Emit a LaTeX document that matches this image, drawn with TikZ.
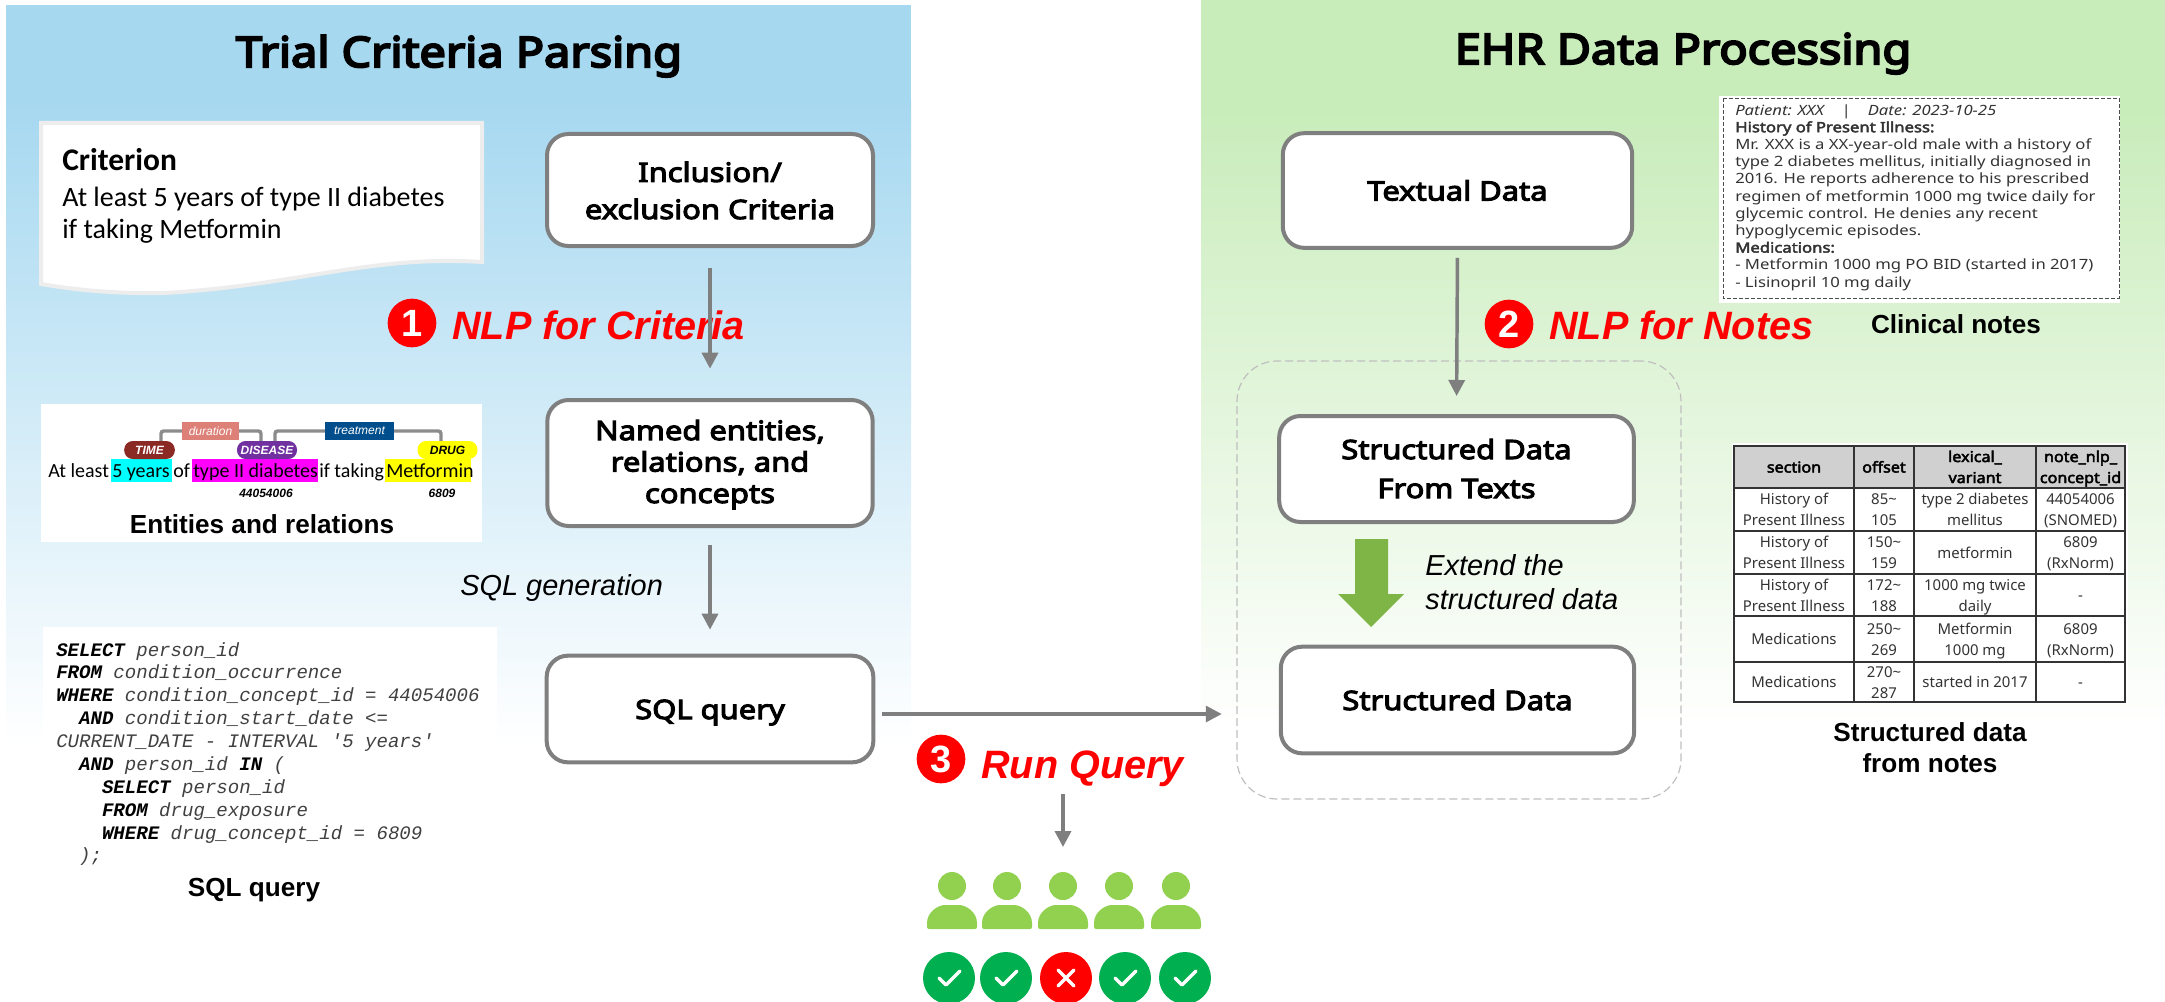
\documentclass[tikz,border=0pt]{standalone}
\usepackage{fontspec}
\setmainfont{Liberation Sans}
\setmonofont{Liberation Mono}
\newfontfamily\notofam{Noto Sans}
\newfontfamily\boxfam{Noto Sans}[FakeBold=4,FakeStretch=1.16]
\newfontfamily\titlefam{Noto Sans}[FakeBold=5,FakeStretch=1.115]
\newfontfamily\headfam{Noto Sans}[FakeBold=3,FakeStretch=1.08]
\newfontfamily\notefam{Noto Sans}[FakeStretch=1.18]
\newfontfamily\noteboldfam{Noto Sans}[FakeBold=3,FakeStretch=1.18]
\newfontfamily\carlfam{Carlito}
\usetikzlibrary{arrows.meta}
\definecolor{flowgray}{HTML}{7F7F7F}
\definecolor{bluetop}{HTML}{A6D8F0}
\definecolor{greentop}{HTML}{C8ECBA}
\definecolor{bodygreen}{HTML}{92D050}
\definecolor{okgreen}{HTML}{00B050}
\definecolor{arrowgreen}{HTML}{7FB546}
\definecolor{notegray}{HTML}{EDEDED}
\definecolor{codegray}{HTML}{404040}
\definecolor{hdrgray}{HTML}{D0D0D0}
\definecolor{purered}{HTML}{FF0000}
\definecolor{hlcyan}{HTML}{00FFFF}
\definecolor{hlmagenta}{HTML}{FF00FF}
\definecolor{hlyellow}{HTML}{FFFF00}
\definecolor{timered}{HTML}{8B2A25}
\definecolor{diseasepurple}{HTML}{7030A0}
\definecolor{durationsalmon}{HTML}{DD8077}
\definecolor{treatblue}{HTML}{004E8C}
\definecolor{relgray}{HTML}{8C8C8C}
\tikzset{
  flowbox/.style={draw=flowgray,line width=3pt,fill=white,rounded corners=16pt,inner sep=0pt,align=center,
     font=\boxfam\fontsize{20}{23.6}\selectfont},
  flowarrow/.style={draw=flowgray,line width=2.6pt,-{Triangle[length=12pt,width=12pt]}},
  titletext/.style={inner sep=0pt,anchor=base,font=\titlefam\fontsize{31.5}{36}\selectfont},
  captext/.style={inner sep=0pt,anchor=base,align=center,font=\bfseries\fontsize{19.6}{23.2}\selectfont},
  steptext/.style={inner sep=0pt,anchor=base west,text=purered,font=\bfseries\itshape\fontsize{29.7}{34}\selectfont},
  numbadge/.style={circle,fill=purered,text=white,inner sep=0pt,minimum size=36.5pt,font=\bfseries\fontsize{28.5}{30}\selectfont},
  ittext/.style={inner sep=0pt,anchor=base west,align=left,font=\itshape\fontsize{21.7}{25.8}\selectfont},
  linetext/.style={inner sep=0pt,anchor=base west,font=\carlfam\fontsize{15}{18}\selectfont},
  tagtext/.style={inner sep=0pt,anchor=base,font=\bfseries\itshape\fontsize{9}{10}\selectfont},
  pill/.style={rounded corners=6.5pt,inner sep=0pt,minimum height=13.5pt,text=white,font=\bfseries\itshape\fontsize{9}{10}\selectfont},
  relbox/.style={inner sep=0pt,minimum height=14pt,text=white,font=\itshape\fontsize{9}{10}\selectfont},
  cellbase/.style={inner sep=0pt,align=center,text=black!80,font=\notofam\fontsize{11.2}{15.75}\selectfont,text depth=0pt},
  celltwo/.style={cellbase,text height=24pt},
  cellone/.style={cellbase,text height=8.25pt},
  headtwo/.style={celltwo,text=black,font=\headfam\fontsize{11.2}{15.75}\selectfont},
  headone/.style={cellone,text=black,font=\headfam\fontsize{11.2}{15.75}\selectfont},
  badge/.style={circle,inner sep=0pt,minimum size=39pt},
  markline/.style={draw=white,line width=2.6pt,line cap=round,line join=round},
  relline/.style={draw=relgray,line width=2.6pt,rounded corners=2pt},
}
\begin{document}
\begin{tikzpicture}[x=0.75pt,y=-0.75pt]
\useasboundingbox (0,0) rectangle (2165,1002);
% panels
\fill[bluetop] (6,5) rectangle (911,100);
\shade[top color=bluetop,bottom color=white] (6,100) rectangle (911,745);
\fill[greentop] (1201,0) rectangle (2165,100);
\shade[top color=greentop,bottom color=white] (1201,100) rectangle (2165,730);
% titles
\node[titletext] (title1) at (459,67) {Trial Criteria Parsing};
\node[titletext] (title2) at (1683,64) {EHR Data Processing};
% criterion note
\draw[draw=notegray,line width=3pt,fill=white] (41,123) -- (482,123) -- (482,262)
  .. controls (370,255) and (300,285) .. (165,293) .. controls (110,294) and (70,289) .. (41,284) -- cycle;
\node[inner sep=0pt,anchor=base west,font=\carlfam\bfseries\fontsize{23.6}{27}\selectfont] (crit) at (62,171) {Criterion};
\node[inner sep=0pt,anchor=base west,font=\carlfam\fontsize{21}{27}\selectfont] (critA) at (62,206) {At least 5 years of type II diabetes};
\node[inner sep=0pt,anchor=base west,font=\carlfam\fontsize{21}{27}\selectfont] (critB) at (62,238) {if taking Metformin};
% entities panel
\fill[white] (41,404) rectangle (482,542);
\fill[hlcyan] (111,459) rectangle (172,482);
\fill[hlmagenta] (192,459) rectangle (318,482);
\fill[hlyellow] (385,459) rectangle (471,482);
\draw[relline] (161,441) -- (161,431) -- (261,431) -- (261,441);
\draw[relline] (275,441) -- (275,431) -- (441,431) -- (441,441);
\node[relbox,fill=durationsalmon,minimum width=43pt] (rel1) at (210.5,431) {duration};
\node[relbox,fill=treatblue,minimum width=52pt] (rel2) at (359.5,431) {treatment};
\node[pill,fill=timered,minimum width=38pt] (tag1) at (149.5,450) {TIME};
\node[pill,fill=diseasepurple,minimum width=45pt] (tag2) at (267,450) {DISEASE};
\node[pill,fill=hlyellow,text=black,minimum width=45pt] (tag3) at (447.5,450) {DRUG};
\node[linetext] (w1) at (48,477) {At least};
\node[linetext] (w2) at (112,477) {5 years};
\node[linetext] (w3) at (173,477) {of};
\node[linetext] (w4) at (193,477) {type II diabetes};
\node[linetext] (w5) at (319,477) {if taking};
\node[linetext] (w6) at (386,477) {Metformin};
\node[tagtext] (id1) at (266,497) {44054006};
\node[tagtext] (id2) at (442,497) {6809};
\node[captext] (cap1) at (262,533) {Entities and relations};
% SQL panel
\fill[white] (43,627) rectangle (497,905);
\node[inner sep=0pt,anchor=north west,align=left,text=codegray,
  font=\ttfamily\itshape\fontsize{14.3}{17.15}\selectfont] (code) at (56,642)
{\textbf{\textcolor{black}{SELECT}} person\_id\\
\textbf{\textcolor{black}{FROM}} condition\_occurrence\\
\textbf{\textcolor{black}{WHERE}} condition\_concept\_id = 44054006\\
\ \ \textbf{\textcolor{black}{AND}} condition\_start\_date <=\\
CURRENT\_DATE - INTERVAL '5 years'\\
\ \ \textbf{\textcolor{black}{AND}} person\_id \textbf{\textcolor{black}{IN}} (\\
\ \ \ \ \textbf{\textcolor{black}{SELECT}} person\_id\\
\ \ \ \ \textbf{\textcolor{black}{FROM}} drug\_exposure\\
\ \ \ \ \textbf{\textcolor{black}{WHERE}} drug\_concept\_id = 6809\\
\ \ );};
\node[captext] (cap2) at (254,896) {SQL query};
% left flow boxes
\node[flowbox,minimum width=244.5pt,minimum height=84pt,text height=43.5pt,text depth=0pt] (inc) at (710,190) {Inclusion/\\[4.2pt]exclusion Criteria};
\node[flowbox,minimum width=244pt,minimum height=94.5pt,text height=60pt,text depth=0pt] (ner) at (710,463) {Named entities,\\relations, and\\concepts};
\node[flowbox,minimum width=245pt,minimum height=80pt,text height=15pt,text depth=0pt] (sql) at (710,709) {SQL query};
\draw[flowarrow,shorten <=15pt,shorten >=22pt] (inc.south) -- (ner.north);
\draw[flowarrow,shorten <=13pt,shorten >=18pt] (ner.south) -- (sql.north);
\node[inner sep=0pt,anchor=base west,font=\itshape\fontsize{21.7}{26}\selectfont] (sqlgen) at (460,595) {SQL generation};
% step labels
\node[numbadge] (n1) at (412,323) {1};
\node[steptext] (s1) at (452,339) {NLP for Criteria};
\draw[flowgray,line width=2.6pt] ([yshift=-15pt]inc.south) -- ([yshift=-15pt]inc.south |- s1.base);
% right group
\node[draw=black!25,line width=0.9pt,dash pattern=on 6pt off 3pt,rounded corners=30pt,minimum width=333pt,minimum height=328.5pt,inner sep=0pt] (ext) at (1459,580) {};
\node[flowbox,minimum width=262pt,minimum height=86pt,text height=15pt,text depth=0pt] (txt) at (1457.5,190.5) {Textual Data};
\node[flowbox,minimum width=266pt,minimum height=79.5pt,text height=43.5pt,text depth=0pt] (sdt) at (1456.5,469) {Structured Data\\[5.6pt]From Texts};
\node[flowbox,minimum width=265pt,minimum height=80pt,text height=15pt,text depth=0pt] (sd) at (1457.5,700) {Structured Data};
\draw[flowarrow,shorten <=6pt,shorten >=13.5pt] (txt.south) -- (sdt.north);
\fill[arrowgreen] (1355,539) -- (1388,539) -- (1388,594) -- (1404,594) -- (1371,627) -- (1338,594) -- (1355,594) -- cycle;
\node[ittext] (ext1) at (1425,575) {Extend the};
\node[ittext] (ext2) at (1425,609) {structured data};
\node[numbadge] (n2) at (1509,324) {2};
\node[steptext] (s2) at (1549,339) {NLP for Notes};
% clinical notes
\fill[white] (1719,96) rectangle (2120,303);
\draw[black!70,line width=0.6pt,dash pattern=on 3pt off 1.5pt] (1723,98) rectangle (2119,298);
\node[inner sep=0pt,anchor=north west,align=left,text=black!80,font=\notefam\fontsize{10.6}{12.9}\selectfont] (note) at (1735,104)
{\textit{Patient: XXX \ \ \ | \ \ \ Date: 2023-10-25}\\
{\noteboldfam History of Present Illness:}\\
Mr. XXX is a XX-year-old male with a history of\\
type 2 diabetes mellitus, initially diagnosed in\\
2016. He reports adherence to his prescribed\\
regimen of metformin 1000 mg twice daily for\\
glycemic control. He denies any recent\\
hypoglycemic episodes.\\
{\noteboldfam Medications:}\\
- Metformin 1000 mg PO BID (started in 2017)\\
- Lisinopril 10 mg daily};
\node[captext] (cap3) at (1956,333) {Clinical notes};
% table
\fill[white] (1732,443) rectangle (2128,704);
\fill[hdrgray] (1734,446) rectangle (2125,488);
\draw[black!80,line width=1pt] (1734,446) rectangle (2125,702);
\foreach \yy in {488,531,574,616,662} \draw[black!80,line width=1pt] (1734,\yy) -- (2125,\yy);
\foreach \xx in {1854,1914,2036} \draw[black!80,line width=1pt] (\xx,446) -- (\xx,702);
\node[headone] (h1) at (1794,467) {section};
\node[headone] (h2) at (1884,467) {offset};
\node[headtwo] (h3) at (1975,467) {lexical\_\\variant};
\node[headtwo] (h4) at (2080.5,467) {note\_nlp\_\\concept\_id};
\node[celltwo] (a1) at (1794,509.5) {History of\\Present Illness};
\node[celltwo] (a2) at (1884,509.5) {85\textasciitilde\\105};
\node[celltwo] (a3) at (1975,509.5) {type 2 diabetes\\mellitus};
\node[celltwo] (a4) at (2080.5,509.5) {44054006\\(SNOMED)};
\node[celltwo] (b1) at (1794,552.5) {History of\\Present Illness};
\node[celltwo] (b2) at (1884,552.5) {150\textasciitilde\\159};
\node[cellone] (b3) at (1975,552.5) {metformin};
\node[celltwo] (b4) at (2080.5,552.5) {6809\\(RxNorm)};
\node[celltwo] (c1) at (1794,595) {History of\\Present Illness};
\node[celltwo] (c2) at (1884,595) {172\textasciitilde\\188};
\node[celltwo] (c3) at (1975,595) {1000 mg twice\\daily};
\node[cellone] (c4) at (2080.5,595) {-};
\node[cellone] (d1) at (1794,639) {Medications};
\node[celltwo] (d2) at (1884,639) {250\textasciitilde\\269};
\node[celltwo] (d3) at (1975,639) {Metformin\\1000 mg};
\node[celltwo] (d4) at (2080.5,639) {6809\\(RxNorm)};
\node[cellone] (e1) at (1794,682) {Medications};
\node[celltwo] (e2) at (1884,682) {270\textasciitilde\\287};
\node[cellone] (e3) at (1975,682) {started in 2017};
\node[cellone] (e4) at (2080.5,682) {-};
\node[captext] (cap4a) at (1930,741) {Structured data};
\node[captext] (cap4b) at (1930,772) {from notes};
% connector to EHR
\draw[flowarrow,shorten <=5pt,shorten >=11pt] ([yshift=-3.75pt]sql.east) -- ([yshift=-3.75pt]sql.east -| ext.west);
% run query
\node[numbadge] (n3) at (941,759) {3};
\node[steptext] (s3) at (981,778) {Run Query};
\coordinate (runfrom) at (1063,794);
\coordinate (runto) at (1063,847);
\draw[flowarrow] (runfrom) -- (runto);
% people
\foreach \px in {952,1007,1063,1119,1176} {
  \fill[bodygreen] (\px,886) circle (10.5pt);
  \fill[bodygreen,rounded corners=1.5pt] (\px-25,929) -- (\px-25,925) .. controls (\px-25,912) and (\px-14,905) .. (\px-5,905)
     -- (\px+5,905) .. controls (\px+14,905) and (\px+25,912) .. (\px+25,925) -- (\px+25,929) -- cycle;
}
% outcome badges
\foreach \bx/\bn in {949/ba,1006/bb,1125/bd,1185/be} {
  \node[badge,fill=okgreen] (\bn) at (\bx,978) {};
  \draw[markline] (\bx-10,978) -- (\bx-3,985) -- (\bx+11,971);
}
\node[badge,fill=purered] (bc) at (1066,978) {};
\draw[markline] (1058,970) -- (1074,986) (1074,970) -- (1058,986);
\end{tikzpicture}
\end{document}
